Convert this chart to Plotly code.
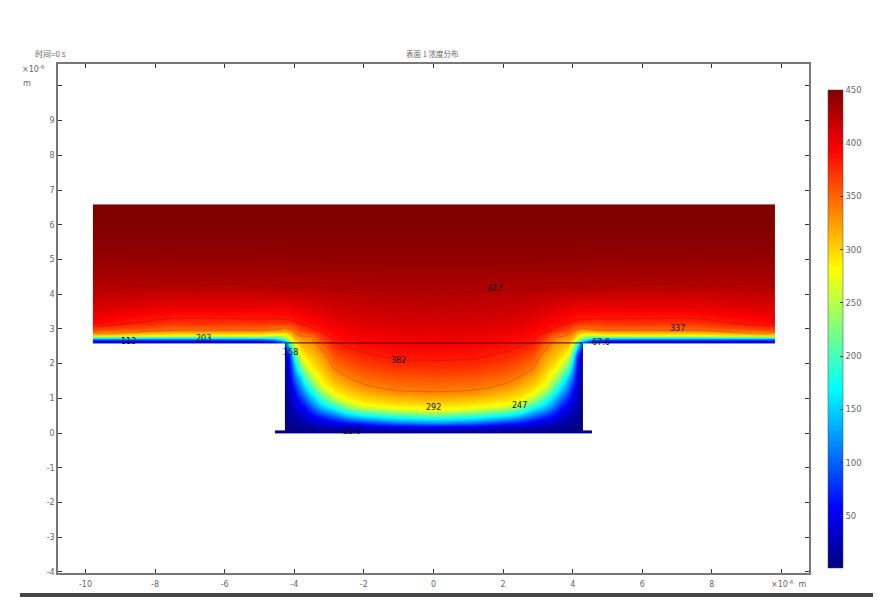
import plotly.graph_objects as go

N = None
half_x = [0, 1.1, 2.05, 2.5, 2.85, 3.2, 3.5, 3.7, 3.85, 4.0, 4.15, 4.27,
          4.28, 4.55, 4.56, 5, 6, 7.5, 9.8, 9.81]
y_rows = [-0.01, 0, 0.08, 0.09, 0.18, 0.28, 0.38, 0.5, 0.65, 0.8, 1.0, 1.2, 1.4, 1.6, 1.9, 2.2, 2.59,
          2.6, 2.66, 2.74, 2.82, 2.97, 3.17, 3.3, 3.6, 4.2, 5, 6, 6.6, 6.61]
half_z = [
    [N]*20,
    [8]*14 + [N]*6,
    [16, 15, 12, 10, 9, 8, 6, 5, 4, 4, 3, 2, 2, 2] + [N]*6,
    [25, 22, 16, 13, 11, 9, 7, 6, 5, 4, 3, 2] + [N]*8,
    [56, 47, 38, 33, 28, 22, 16, 12, 10, 8, 5, 3] + [N]*8,
    [112, 98, 70, 60, 48, 38, 26, 20, 15, 11, 7, 4] + [N]*8,
    [162, 150, 117, 98, 73, 53, 40, 28, 21, 15, 9, 5] + [N]*8,
    [212, 196, 168, 142, 107, 81, 56, 38, 29, 20, 11, 6] + [N]*8,
    [275, 254, 223, 193, 150, 118, 82, 50, 40, 27, 14, 7] + [N]*8,
    [295, 290, 277, 242, 194, 154, 107, 69, 51, 35, 17, 8] + [N]*8,
    [317, 312, 299, 287, 252, 198, 141, 101, 73, 45, 21, 10] + [N]*8,
    [338, 335, 317, 303, 288, 242, 178, 134, 98, 56, 26, 12] + [N]*8,
    [349, 346, 336, 319, 303, 282, 216, 167, 123, 77, 32, 14] + [N]*8,
    [359, 356, 347, 335, 318, 292, 253, 202, 148, 98, 38, 17] + [N]*8,
    [374, 372, 362, 352, 340, 308, 289, 255, 208, 129, 46, 21] + [N]*8,
    [386, 385, 377, 368, 358, 324, 306, 292, 271, 176, 56, 28] + [N]*8,
    [398, 396, 391, 387, 381, 352, 328, 321, 313, 278, 175, 80] + [N]*8,
    [398, 396, 392, 388, 382, 354, 329, 322, 314, 283, 190, 100, 90, 45, 44, 38, 38, 38, 38, N],
    [399, 398, 394, 390, 384, 361, 333, 326, 318, 298, 230, 165, 160, 95, 92, 60, 58, 58, 58, N],
    [401, 400, 396, 392, 387, 369, 336, 332, 326, 313, 265, 225, 222, 165, 163, 148, 145, 145, 145, N],
    [403, 402, 398, 395, 390, 376, 350, 342, 336, 326, 290, 270, 268, 258, 257, 278, 278, 278, 300, N],
    [406, 405, 402, 399, 394, 388, 377, 368, 362, 345, 332, 325, 325, 335, 335, 340, 340, 340, 360, N],
    [411, 410, 408, 405, 401, 396, 391, 388, 384, 378, 372, 370, 370, 368, 368, 372, 372, 372, 392, N],
    [414, 413, 411, 409, 405, 400, 396, 393, 391, 388, 385, 384, 384, 383, 383, 383, 382, 382, 398, N],
    [420, 419, 417, 415, 413, 410, 407, 405, 403, 402, 401, 400, 400, 400, 400, 400, 400, 400, 409, N],
    [429.5, 429, 428.5, 428, 428, 427.5, 427.2, 427, 427, 427, 427, 427, 427, 426.5, 426.5, 426, 425, 425.5, 426, N],
    [441]*11 + [440]*8 + [N],
    [449]*19 + [N],
    [450]*19 + [N],
    [N]*20,
]
x_cols = [-v for v in half_x[:0:-1]] + half_x
z_grid = [row[:0:-1] + row for row in half_z]

contour_levels = dict(start=337, end=427, size=45)
label_text = ["113", "203", "158", "382", "292", "247", "427", "337", "67.6", "22.6"]
label_x = [-8.75, -6.6, -4.1, -1.0, 0, 2.47, 1.74, 7.0, 4.8, -2.35]
label_y = [2.65, 2.72, 2.33, 2.1, 0.75, 0.8, 4.15, 3.0, 2.62, 0.05]
x_ticks = [-10, -8, -6, -4, -2, 0, 2, 4, 6, 8]
x_ticklabels = ["-10", "-8", "-6", "-4", "-2", "0", "2", "4", "6", "8"]
y_ticks = [-4, -3, -2, -1, 0, 1, 2, 3, 4, 5, 6, 7, 8, 9]
y_ticklabels = ["-4", "-3", "-2", "-1", "0", "1", "2", "3", "4", "5", "6", "7", "8", "9"]
x_extra_tick = [10]
y_extra_tick = [10]
cbar_ticks = [50, 100, 150, 200, 250, 300, 350, 400, 450]
interface_x = [-4.27, 4.27]
interface_y = [2.6, 2.6]

jet = [[0, "#00007f"], [0.125, "#0000ff"], [0.375, "#00ffff"], [0.625, "#ffff00"],
       [0.875, "#ff0000"], [1, "#7f0000"]]
GREY = "#666666"
CJK = "Noto Sans CJK SC"

fig = go.Figure()
fig.add_trace(go.Heatmap(
    x=x_cols, y=y_rows, z=z_grid, zmin=1, zmax=450, zsmooth="best", colorscale=jet,
    hoverongaps=False,
    colorbar=dict(
        x=(828-58)/751, xanchor="left", y=5/509, yanchor="bottom",
        lenmode="pixels", len=478, thickness=15, xpad=0, ypad=0,
        tickvals=cbar_ticks, ticks="inside", ticklen=3, tickprefix="\u00a0\u00a0",
        tickcolor="#333333", tickfont=dict(size=8.5, color=GREY, family="DejaVu Sans"),
        outlinecolor="#444444", outlinewidth=0.5),
))
fig.add_trace(go.Contour(
    x=x_cols, y=y_rows, z=z_grid, showscale=False, hoverinfo="skip",
    contours=dict(coloring="none", **contour_levels),
    line=dict(color="rgba(80,0,0,0.3)", width=0.7, smoothing=1.3),
))
fig.add_trace(go.Scatter(
    x=interface_x, y=interface_y, mode="lines", showlegend=False, hoverinfo="skip",
    line=dict(color="rgba(70,0,0,0.8)", width=1.2),
))

annotations = [dict(x=a, y=b, text=t, showarrow=False, xref="x", yref="y",
                    font=dict(size=8, color="#111111", family="DejaVu Sans"))
               for t, a, b in zip(label_text, label_x, label_y)]
def paper_ann(px, py, text, size=7, color=GREY, anchor="left", family="DejaVu Sans"):
    return dict(x=(px-58)/751, y=(573-py)/509, xref="paper", yref="paper", text=text, showarrow=False,
                xanchor=anchor, yanchor="middle", font=dict(size=size, color=color, family=family))
annotations += [
    paper_ann(33, 53, "时间=0 s", size=8, family=CJK),
    paper_ann(432, 53, "表面 1 浓度分布", size=7.5, anchor="center", family=CJK),
    paper_ann(20, 69, "×10<sup>-6</sup>", size=8),
    paper_ann(21, 84, "m", size=8),
    paper_ann(769, 584, "×10<sup>-6</sup>  m", size=8),
]

tick_style = dict(ticks="inside", ticklen=4, tickwidth=1, tickcolor="#333333")
axis_common = dict(showgrid=False, zeroline=False, showline=True, linecolor="#777777", linewidth=1.5,
                   mirror="allticks", tickfont=dict(size=8, color=GREY, family="DejaVu Sans"), **tick_style)
fig.update_layout(
    width=893, height=615, margin=dict(l=58, r=84, t=64, b=42, autoexpand=False),
    paper_bgcolor="white", plot_bgcolor="white", showlegend=False,
    xaxis=dict(range=[-10.79, 10.79], tickvals=x_ticks, ticktext=x_ticklabels, ticklabelstandoff=3,
               minor=dict(tickvals=x_extra_tick, **tick_style), **axis_common),
    yaxis=dict(range=[-4.03, 10.63], tickvals=y_ticks, ticktext=y_ticklabels,
               minor=dict(tickvals=y_extra_tick, **tick_style), **axis_common),
    annotations=annotations,
    shapes=[dict(type="rect", xref="paper", yref="paper", x0=(20-58)/751, x1=(873-58)/751,
                 y0=(573-597)/509, y1=(573-593)/509, fillcolor="#444444", line_width=0, layer="above")],
)
fig.write_html("out.html", config=dict(displayModeBar=False),
               post_script="document.body.style.margin='0';")
